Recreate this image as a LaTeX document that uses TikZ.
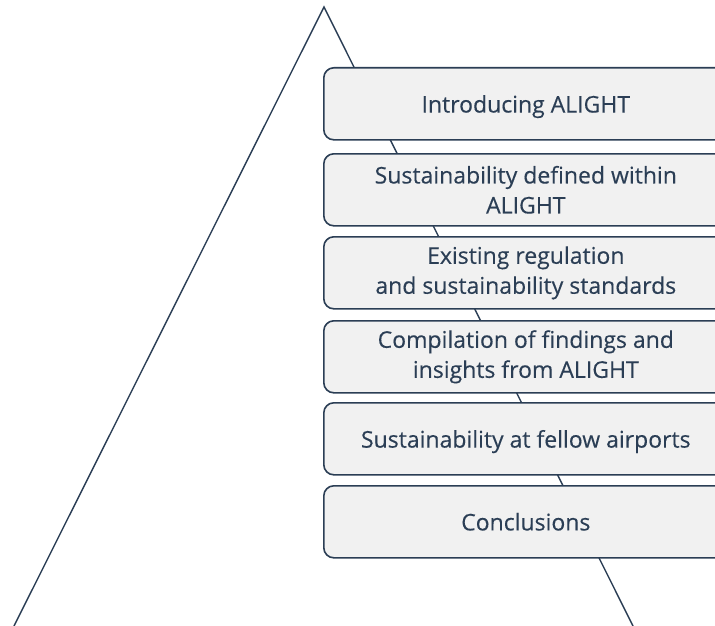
\documentclass[tikz,border=0pt]{standalone}
\usepackage{fontspec}
\setmainfont{Open Sans}
\newfontfamily\stagefont{Open Sans}[UprightFeatures={FakeBold=0.25}]
\definecolor{navy}{HTML}{2B3E55}
\definecolor{boxfill}{HTML}{F1F1F1}
\begin{document}
\begin{tikzpicture}[x=1pt,y=-1pt,
  stage/.style={draw=navy, line width=1.6pt, fill=boxfill, rounded corners=10pt,
    minimum width=404pt, minimum height=72pt, anchor=north west, inner sep=0pt,
    text=navy, align=center, font=\stagefont\fontsize{23}{30}\selectfont},
  oneline/.style={text depth=0pt},
  edge/.style={draw=navy, line width=1.4pt}]
\useasboundingbox (0,0) rectangle (715,626);
\clip (0,0) rectangle (715,626);
% pyramid outline
\coordinate (apex) at (324,7);
\coordinate (bl) at (14,626);
\coordinate (br) at (633,626);
\draw[edge] (bl) -- (apex) -- (br);
% stages
\node[stage, oneline] (s1) at (323,67) {Introducing ALIGHT};
\node[stage] (s2) at (323,153) {Sustainability defined within\\ALIGHT};
\node[stage] (s3) at (323,236) {Existing regulation\\and sustainability standards};
\node[stage] (s4) at (323,320) {Compilation of findings and\\insights from ALIGHT};
\node[stage, oneline] (s5) at (323,402) {Sustainability at fellow airports};
\node[stage] (s6) at (323,485) {Conclusions};
\end{tikzpicture}
\end{document}
